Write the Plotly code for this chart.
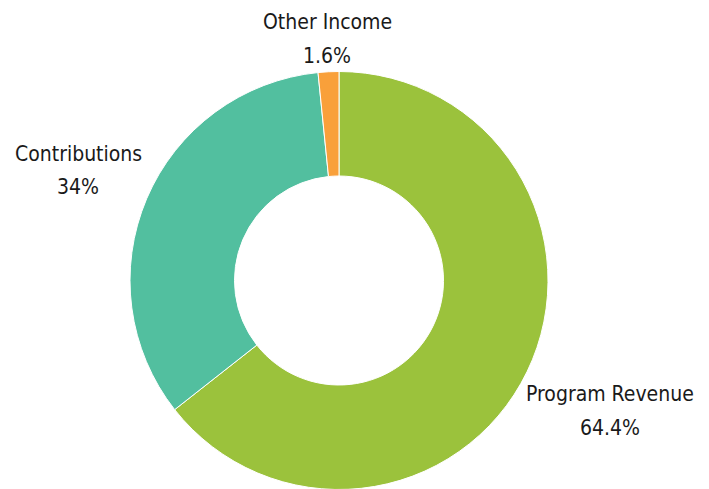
import plotly.graph_objects as go

labels = ["Program Revenue", "Contributions", "Other Income"]
values = [64.4, 34, 1.6]
pct_text = ["64.4%", "34%", "1.6%"]
colors = ["#9BC23C", "#52BF9F", "#F9A03A"]

W, H = 709, 489
OFF = 8  # page body margin offset
cx, cy, R = 339 - OFF, 280.5 - OFF, 209
fig = go.Figure(go.Pie(
    labels=labels, values=values, hole=0.5, sort=False, direction="clockwise",
    rotation=0, marker=dict(colors=colors, line=dict(color="white", width=1)),
    textinfo="none", hoverinfo="label+percent", showlegend=False,
    domain=dict(x=[(cx - R) / W, (cx + R) / W], y=[(H - cy - R) / H, (H - cy + R) / H]),
))

# label positions (pixel centers in screenshot): (x, y_label, y_pct)
pos = {"Program Revenue": (610, 394, 428), "Contributions": (78, 154, 187), "Other Income": (327, 22, 56)}
font = dict(family="DejaVu Sans Condensed, DejaVu Sans", size=21, color="#1a1a1a")
for lab, pt in zip(labels, pct_text):
    x, y1, y2 = pos[lab]
    for txt, y in ((lab, y1), (pt, y2)):
        fig.add_annotation(x=(x - OFF) / W, y=1 - (y - OFF) / H, xref="paper", yref="paper",
                           xanchor="center", yanchor="middle",
                           text=txt, showarrow=False, align="center", font=font)

fig.update_layout(width=W, height=H, margin=dict(l=0, r=0, t=0, b=0),
                  paper_bgcolor="white", plot_bgcolor="white")
fig.write_html("out.html")
